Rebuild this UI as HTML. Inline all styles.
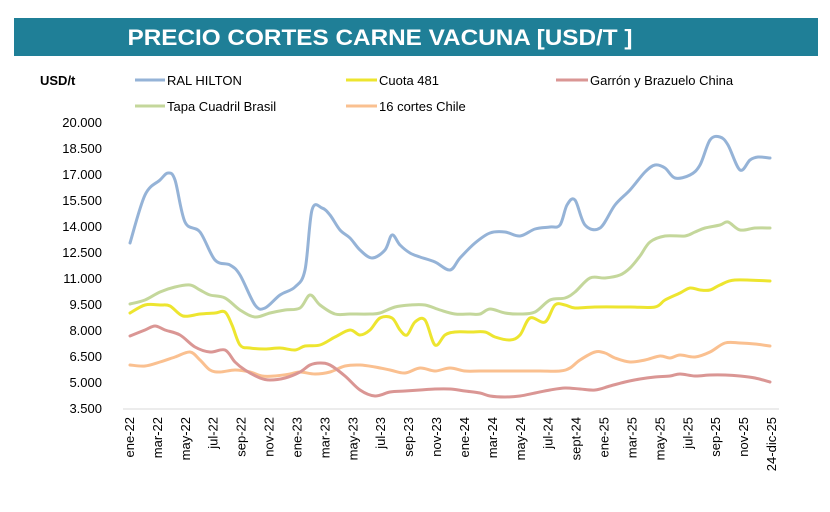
<!DOCTYPE html>
<html><head><meta charset="utf-8"><style>
body{margin:0;background:#fff;width:830px;height:507px;overflow:hidden;font-family:"Liberation Sans",sans-serif;}
</style></head><body>
<svg width="830" height="507" xmlns="http://www.w3.org/2000/svg" font-family="Liberation Sans, sans-serif">
<rect x="14" y="18" width="804" height="38" fill="#1f7f97"/>
<text x="380" y="45" fill="#fff" font-size="22" font-weight="bold" text-anchor="middle" textLength="505" lengthAdjust="spacingAndGlyphs">PRECIO CORTES CARNE VACUNA [USD/T ]</text>
<text x="40" y="85" font-size="13" font-weight="bold" fill="#000">USD/t</text>
<g font-size="13" fill="#000">
<line x1="135" y1="80" x2="165" y2="80" stroke="#95b3d7" stroke-width="3"/><text x="167" y="85">RAL HILTON</text>
<line x1="346" y1="80" x2="377" y2="80" stroke="#ede52f" stroke-width="3"/><text x="379" y="85">Cuota 481</text>
<line x1="556" y1="80" x2="588" y2="80" stroke="#da9694" stroke-width="3"/><text x="590" y="85">Garrón y Brazuelo China</text>
<line x1="135" y1="106" x2="165" y2="106" stroke="#c4d79b" stroke-width="3"/><text x="167" y="111">Tapa Cuadril Brasil</text>
<line x1="346" y1="106" x2="377" y2="106" stroke="#fac090" stroke-width="3"/><text x="379" y="111">16 cortes Chile</text>
</g>
<g font-size="13" fill="#000" text-anchor="end" id="yl"></g>
<line x1="123" y1="409" x2="779" y2="409" stroke="#d9d9d9" stroke-width="1"/>
<g font-size="13" fill="#000" id="xl"></g>
<g id="series" fill="none" stroke-width="3" stroke-linejoin="round" stroke-linecap="round"></g>
</svg>
<script>
var NS="http://www.w3.org/2000/svg";
var yl=document.getElementById('yl');
var vals=["20.000","18.500","17.000","15.500","14.000","12.500","11.000","9.500","8.000","6.500","5.000","3.500"];
vals.forEach(function(v,i){var t=document.createElementNS(NS,'text');t.setAttribute('x',102);t.setAttribute('y',127+i*26);t.textContent=v;yl.appendChild(t);});
var xs=["ene-22","mar-22","may-22","jul-22","sep-22","nov-22","ene-23","mar-23","may-23","jul-23","sep-23","nov-23","ene-24","mar-24","may-24","jul-24","sept-24","ene-25","mar-25","may-25","jul-25","sep-25","nov-25","24-dic-25"];
var xl=document.getElementById('xl');
var n=xs.length;
xs.forEach(function(s,i){var x=130+i*(772-130)/(n-1)+4;var t=document.createElementNS(NS,'text');t.setAttribute('transform','translate('+x+',417) rotate(-90)');t.setAttribute('text-anchor','end');t.textContent=s;xl.appendChild(t);});
function path(p){var d="M"+p[0][0]+","+p[0][1];for(var i=0;i<p.length-1;i++){var p0=p[i>0?i-1:0],p1=p[i],p2=p[i+1],p3=p[i+2<p.length?i+2:i+1];var c1x=p1[0]+(p2[0]-p0[0])/6,c1y=p1[1]+(p2[1]-p0[1])/6,c2x=p2[0]-(p3[0]-p1[0])/6,c2y=p2[1]-(p3[1]-p1[1])/6;d+=" C"+c1x+","+c1y+" "+c2x+","+c2y+" "+p2[0]+","+p2[1];}return d;}
var S=[
["#c4d79b",[[130,304],[145,300],[160,292],[175,287],[190,285],[200,290],[210,295],[225,298],[240,310],[255,317],[270,313],[285,310],[300,308],[310,295],[320,305],[335,314],[350,314],[370,314],[380,313],[395,307],[410,305],[425,305],[440,310],[455,314],[470,314],[480,314],[490,309],[505,313],[520,314],[535,312],[550,300],[565,298],[575,292],[590,278],[605,278],[620,275],[630,268],[640,256],[650,242],[665,236],[685,236],[695,232],[705,228],[720,225],[728,222],[740,230],[755,228],[770,228]]],
["#fac090",[[130,365],[145,366],[160,362],[175,357],[190,352],[200,360],[210,370],[220,372],[235,370],[250,372],[262,376],[275,376],[290,374],[300,372],[315,374],[330,372],[345,366],[360,365],[375,367],[390,370],[405,373],[420,368],[435,371],[450,368],[465,371],[480,371],[500,371],[520,371],[540,371],[560,371],[570,368],[580,360],[595,352],[605,353],[615,358],[630,362],[645,360],[660,356],[670,358],[680,355],[695,357],[710,352],[725,343],[740,343],[755,344],[770,346]]],
["#da9694",[[130,336],[145,330],[155,326],[165,330],[180,335],[195,347],[210,352],[225,350],[235,362],[245,370],[260,378],[270,380],[285,378],[300,372],[310,365],[320,363],[330,365],[345,376],[360,390],[375,396],[390,392],[405,391],[420,390],[435,389],[450,389],[465,391],[480,393],[490,396],[505,397],[520,396],[535,393],[550,390],[565,388],[580,389],[595,390],[610,386],[625,382],[640,379],[655,377],[670,376],[680,374],[695,376],[710,375],[725,375],[740,376],[755,378],[770,382]]],
["#ede52f",[[130,313],[145,305],[160,305],[170,306],[183,316],[200,314],[215,313],[225,312],[232,325],[240,345],[250,348],[265,349],[280,348],[295,350],[305,346],[320,345],[335,337],[350,330],[360,335],[370,330],[380,318],[392,318],[400,330],[407,335],[415,322],[425,320],[435,345],[445,335],[455,332],[470,332],[485,332],[495,337],[510,340],[520,335],[530,318],[545,322],[555,305],[565,305],[575,308],[595,307],[630,307],[655,307],[665,300],[680,293],[690,288],[700,290],[710,290],[720,285],[735,280],[770,281]]],
["#95b3d7",[[130,243],[145,195],[160,180],[168,173],[175,180],[185,222],[200,232],[215,260],[230,265],[240,275],[255,305],[265,308],[280,295],[295,287],[305,270],[312,210],[322,208],[330,215],[340,230],[350,238],[360,250],[372,258],[385,250],[392,235],[400,245],[410,253],[420,257],[435,262],[450,270],[460,258],[475,243],[490,233],[505,232],[520,236],[535,229],[550,227],[560,225],[567,205],[575,200],[585,225],[600,228],[615,205],[630,190],[645,172],[655,165],[665,168],[675,178],[690,175],[700,165],[710,140],[720,137],[728,145],[740,170],[750,160],[758,157],[770,158]]]
];
var g=document.getElementById('series');
S.forEach(function(s){var p=document.createElementNS(NS,'path');p.setAttribute('d',path(s[1]));p.setAttribute('stroke',s[0]);g.appendChild(p);});
</script>
</body></html>
